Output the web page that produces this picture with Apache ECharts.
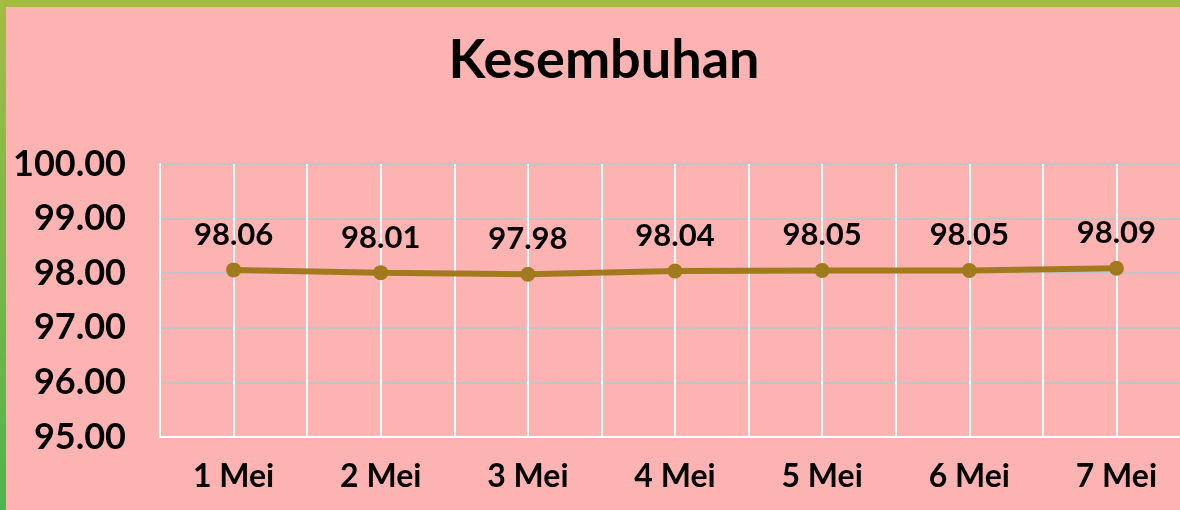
<!DOCTYPE html>
<html>
<head>
<meta charset="utf-8">
<script src="https://cdn.jsdelivr.net/npm/echarts@6/dist/echarts.min.js"></script>
<style>
  html, body { margin: 0; padding: 0; }
  #wrap { width: 1180px; height: 510px; background: linear-gradient(to bottom, #a4bc44, #4cb54c); position: relative; overflow: hidden; }
  #main { position: absolute; left: 6px; top: 7px; width: 1200px; height: 503px; background: #fdb3b2; }
</style>
</head>
<body>
<div id="wrap"><div id="main"></div></div>
<script>
// data
var days = ['1 Mei', '2 Mei', '3 Mei', '4 Mei', '5 Mei', '6 Mei', '7 Mei'];
var kesembuhan = [98.06, 98.01, 97.98, 98.04, 98.05, 98.05, 98.09];

var font = 'Lato, "DejaVu Sans", sans-serif';
var chart = echarts.init(document.getElementById('main'));
var option = {
  animation: false,
  backgroundColor: '#fdb3b2',
  title: {
    text: 'Kesembuhan',
    left: 593,
    textAlign: 'center',
    top: 22,
    textStyle: { fontFamily: font, fontSize: 54, fontWeight: 'bold', color: '#000' }
  },
  grid: { left: 154, top: 157, width: 1030, height: 273 },
  xAxis: [{
    type: 'category',
    data: days,
    boundaryGap: true,
    axisLine: { lineStyle: { color: '#ffffff', width: 2 } },
    axisTick: { show: false },
    splitLine: { show: false },
    axisLabel: { fontFamily: font, fontSize: 32, fontWeight: 'bold', color: '#000', margin: 24 }
  }, {
    // only for the white vertical lines at half-category steps
    type: 'value',
    min: 0, max: 14, interval: 1,
    position: 'bottom',
    axisLine: { show: false },
    axisTick: { show: false },
    axisLabel: { show: false },
    splitLine: { show: true, lineStyle: { color: '#ffffff', width: 2 } }
  }],
  yAxis: {
    type: 'value',
    min: 95, max: 100, interval: 1,
    axisLine: { show: true, lineStyle: { color: '#ffffff', width: 2 } },
    axisTick: { show: false },
    splitLine: { lineStyle: { color: '#c4c4c4', width: 2 } },
    axisLabel: {
      fontFamily: font, fontSize: 36, fontWeight: 'bold', color: '#000', margin: 34,
      formatter: function (v) { return v.toFixed(2); }
    }
  },
  series: [{
    type: 'line',
    xAxisIndex: 0,
    data: kesembuhan,
    symbol: 'circle',
    symbolSize: 15,
    lineStyle: { color: '#a27a1e', width: 6 },
    itemStyle: { color: '#a27a1e' },
    label: {
      show: true, position: 'top', distance: 12,
      fontFamily: font, fontSize: 31, fontWeight: 'bold', color: '#000',
      formatter: function (p) { return p.value.toFixed(2); }
    }
  }]
};
chart.setOption(option);
</script>
</body>
</html>
